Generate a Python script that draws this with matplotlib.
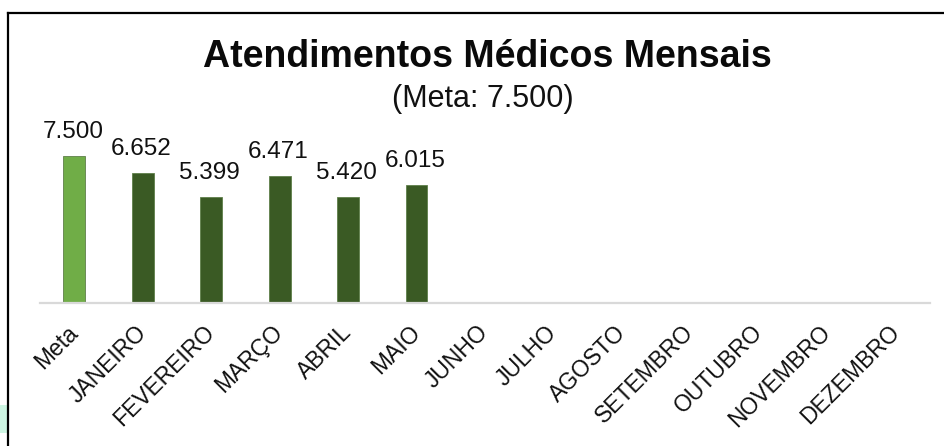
import numpy as np
import matplotlib.pyplot as plt
import matplotlib.transforms as mtransforms
from matplotlib.lines import Line2D
from matplotlib.patches import Rectangle

plt.rcParams["font.family"] = ["Liberation Sans", "DejaVu Sans"]

categorias = ["Meta", "JANEIRO", "FEVEREIRO", "MARÇO", "ABRIL", "MAIO", "JUNHO",
              "JULHO", "AGOSTO", "SETEMBRO", "OUTUBRO", "NOVEMBRO", "DEZEMBRO"]
atendimentos = [7500, 6652, 5399, 6471, 5420, 6015, np.nan,
                np.nan, np.nan, np.nan, np.nan, np.nan, np.nan]
titulo = "Atendimentos Médicos Mensais"
subtitulo = "(Meta: 7.500)"

cor_meta = "#70AD47"
cor_mes = "#3A5A24"

fig = plt.figure(figsize=(9.45, 4.46), dpi=100)
W, H = 945, 446
# area do grafico em pixels: x 40..930, base em y=303
ax = fig.add_axes([40 / W, (H - 303) / H, 890 / W, 156.8 / H])

x = np.arange(len(categorias))
cores = [cor_meta] + [cor_mes] * (len(categorias) - 1)
barras = ax.bar(x, atendimentos, width=0.32, color=cores,
                edgecolor="#5f7f4a", linewidth=0.6)

for xi, v in zip(x, atendimentos):
    if np.isnan(v):
        continue
    rotulo = f"{v:,.0f}".replace(",", ".")
    ax.annotate(rotulo, (xi, v), xytext=(-1, 13), textcoords="offset points",
                ha="center", va="baseline", fontsize=17.5, color="#111111")

ax.set_xlim(-0.5, len(categorias) - 0.5)
ax.set_ylim(0, 8000)
ax.set_yticks([])
for lado in ["top", "right", "left"]:
    ax.spines[lado].set_visible(False)
ax.spines["bottom"].set_color("#D9D9D9")
ax.spines["bottom"].set_linewidth(1.6)

ax.set_xticks(x)
ax.set_xticklabels(categorias, rotation=45, ha="right", va="center",
                   rotation_mode="anchor", fontsize=16.5, color="#111111")
ax.tick_params(axis="x", length=0, pad=0)
desloc = mtransforms.ScaledTranslation(0 / 100, -26 / 100, fig.dpi_scale_trans)
for lab in ax.get_xticklabels():
    lab.set_transform(lab.get_transform() + desloc)

fig.text(487 / W, 1 - 66.7 / H, titulo, ha="center", va="baseline",
         fontsize=27, fontweight="bold", color="#0a0a0a")
fig.text(483 / W, 1 - 106.7 / H, subtitulo, ha="center", va="baseline",
         fontsize=22, color="#111111")

# moldura e recorte da captura
fig.add_artist(Line2D([8.5 / W, 8.5 / W], [0, 1 - 13 / H], color="black",
                      linewidth=1.6, transform=fig.transFigure))
fig.add_artist(Line2D([8 / W, 1], [1 - 13 / H, 1 - 13 / H], color="black",
                      linewidth=1.6, transform=fig.transFigure))
fig.add_artist(Rectangle((0, 1 - 433 / H), 7 / W, 28 / H, color="#cdf5e2",
                         transform=fig.transFigure, linewidth=0))

fig.savefig("out.png", dpi=100)
